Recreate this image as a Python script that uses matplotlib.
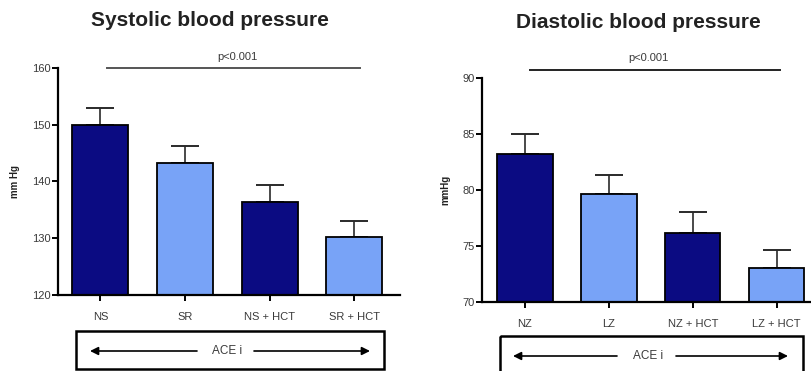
import matplotlib
matplotlib.use("Agg")
import matplotlib.pyplot as plt
import numpy as np
from matplotlib.patches import Rectangle

plt.rcParams['font.family'] = ['Liberation Sans', 'DejaVu Sans']

# ---- data ----
sys_labels = ["NS", "SR", "NS + HCT", "SR + HCT"]
sys_means = [150.0, 143.3, 136.4, 130.3]
sys_err = [3.0, 2.9, 3.0, 2.7]

dia_labels = ["NZ", "LZ", "NZ + HCT", "LZ + HCT"]
dia_means = [83.2, 79.6, 76.2, 73.0]
dia_err = [1.8, 1.7, 1.8, 1.6]

sys_yticks = [120, 130, 140, 150, 160]
dia_yticks = [70, 75, 80, 85, 90]

DARK = "#0b0b82"
LIGHT = "#78a3f7"
colors = [DARK, LIGHT, DARK, LIGHT]
TXT = "#3a3a3a"

W, H = 812, 371
fig = plt.figure(figsize=(W / 100, H / 100), dpi=100)


def fx(px):
    return px / W


def fy(py):
    return 1 - py / H


def draw_panel(rect, labels, means, errs, yticks, ylim, xlim, ylabel):
    ax = fig.add_axes(rect)
    x = np.arange(len(labels))
    ax.bar(x, means, width=0.66, color=colors, edgecolor="black", linewidth=1.3, zorder=2)
    ax.errorbar(x, means, yerr=[np.zeros(len(errs)), errs], fmt="none",
                ecolor="#2a2a2a", elinewidth=1.2, capsize=10, capthick=1.4, zorder=1)
    ax.set_ylim(*ylim)
    ax.set_xlim(*xlim)
    ax.set_yticks(yticks)
    ax.set_xticks(x)
    ax.set_xticklabels(labels, fontsize=8, color=TXT)
    ax.tick_params(axis="y", labelsize=8, labelcolor=TXT, length=4, width=1.4, pad=1)
    ax.tick_params(axis="x", length=4, width=1.4, pad=8)
    for s in ["top", "right"]:
        ax.spines[s].set_visible(False)
    for s in ["left", "bottom"]:
        ax.spines[s].set_linewidth(1.6)
    ax.set_ylabel(ylabel, fontsize=7, fontweight="bold", color="#222222", labelpad=9)
    return ax


ax1 = draw_panel([fx(58), fy(295), fx(400) - fx(58), fy(68) - fy(295)],
                 sys_labels, sys_means, sys_err, sys_yticks, (120, 160), (-0.5, 3.54), "mm Hg")
ax2 = draw_panel([fx(482), fy(302), fx(812) - fx(482), fy(78) - fy(302)],
                 dia_labels, dia_means, dia_err, dia_yticks, (70, 90), (-0.51, 3.42), "mmHg")

# titles
fig.text(fx(210), fy(20), "Systolic blood pressure", ha="center", va="center",
         fontsize=15, fontweight="bold", color="#222222")
fig.text(fx(638), fy(22), "Diastolic blood pressure", ha="center", va="center",
         fontsize=15, fontweight="bold", color="#222222")

# overlay in pixel coordinates for annotations
ov = fig.add_axes([0, 0, 1, 1], zorder=5)
ov.set_xlim(0, W)
ov.set_ylim(H, 0)
ov.axis("off")
ov.patch.set_alpha(0)

# significance lines
ov.plot([107, 360], [68, 68], color="#555555", lw=1.4)
ov.text(237, 57, "p<0.001", ha="center", va="center", fontsize=8, color=TXT)
ov.plot([530, 780], [70, 70], color="#222222", lw=1.4)
ov.text(648, 58, "p<0.001", ha="center", va="center", fontsize=8, color=TXT)

# ACE i boxes
def ace_box(x0, x1, y0, y1, ya, xa0, xa1, xt, gap_l, gap_r):
    ov.add_patch(Rectangle((x0, y0), x1 - x0, y1 - y0, fill=False, ec="black", lw=1.8))
    ov.annotate("", xy=(xa0, ya), xytext=(gap_l, ya),
                arrowprops=dict(arrowstyle="-|>", color="black", lw=1.2,
                                mutation_scale=12, shrinkA=0, shrinkB=0))
    ov.annotate("", xy=(xa1, ya), xytext=(gap_r, ya),
                arrowprops=dict(arrowstyle="-|>", color="black", lw=1.2,
                                mutation_scale=12, shrinkA=0, shrinkB=0))
    ov.text(xt, ya, "ACE i", ha="center", va="center", fontsize=8.5, color=TXT)


ace_box(76, 384, 331, 369, 351, 90, 370, 227, 197, 254)
ace_box(500, 803, 336, 380, 356, 513, 788, 648, 617, 676)

fig.savefig("out.png", dpi=100)
